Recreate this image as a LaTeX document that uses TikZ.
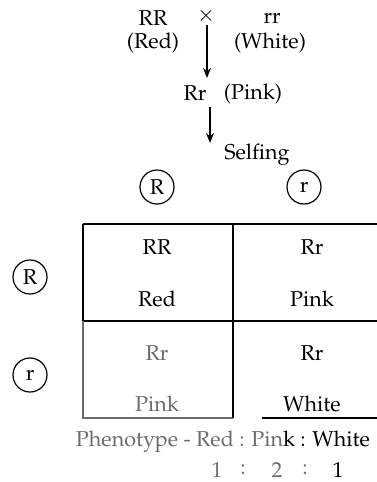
\documentclass[tikz,border=0pt]{standalone}
\usepackage{amsmath,amssymb}
\usepackage[T1]{fontenc}
\usepackage{mathpazo}
\usetikzlibrary{arrows.meta}

\definecolor{fadegray}{gray}{0.42}

\begin{document}
\begin{tikzpicture}[x=1pt, y=-1pt,
    every node/.style = {font=\fontsize{21.5}{26}\selectfont, inner sep=0pt},
    allele/.style = {draw, circle, line width=1.2pt, minimum size=34pt},
    arr/.style = {-{Stealth[length=10pt,width=8pt]}, line width=1.3pt},
    grid/.style = {line width=1.6pt}]
                \useasboundingbox (0,0) rectangle (377,482);
                % the cross
                \node (P1) at (153,18) {RR};
                \node (P1c) at (153,43) {(Red)};
                \node (X) at (206,16) {$\times$};
                \node (P2) at (272,18) {rr};
                \node (P2c) at (270,43) {(White)};
                \coordinate (a1) at (207,25);
                \coordinate (b1) at (207,78);
                \draw[arr] (a1) -- (b1);
                \node (F1) at (195,93) {Rr};
                \node (F1c) at (253,94) {(Pink)};
                \coordinate (a2) at (210,107);
                \coordinate (b2) at (210,143);
                \draw[arr] (a2) -- (b2);
                \node (S) at (257,155) {Selfing};
                % gametes
                \node[allele] (gR) at (157,187) {R};
                \node[allele] (gr) at (304,187) {r};
                \node[allele] (gR2) at (30,277) {R};
                \node[allele] (gr2) at (30,375) {r};
                % checker board
                \draw[grid] (83,224) -- (377,224);
                \draw[grid] (83,321) -- (377,321);
                \draw[grid] (83,224) -- (83,321);
                \draw[grid, fadegray] (83,321) -- (83,418) -- (233,418);
                \draw[grid] (262,418) -- (377,418);
                \draw[grid] (233,224) -- (233,418);
                \node (c11) at (157,247) {RR};
                \node (c11p) at (157,299) {Red};
                \node (c12) at (312,247) {Rr};
                \node (c12p) at (312,299) {Pink};
                \node[fadegray] (c21) at (157,353) {Rr};
                \node[fadegray] (c21p) at (157,404) {Pink};
                \node (c22) at (312,353) {Rr};
                \node (c22p) at (312,404) {White};
                % ratio
                \node (ph) at (223,442) {\textcolor{fadegray}{Phenotype - Red : Pin}k : White};
                \node[fadegray] (n1) at (217,470) {1};
                \node[fadegray] (d1) at (243,470) {:};
                \node[fadegray] (n2) at (277,470) {2};
                \node[fadegray] (d2) at (305,470) {:};
                \node (n3) at (338,470) {1};
            \end{tikzpicture}
\end{document}
